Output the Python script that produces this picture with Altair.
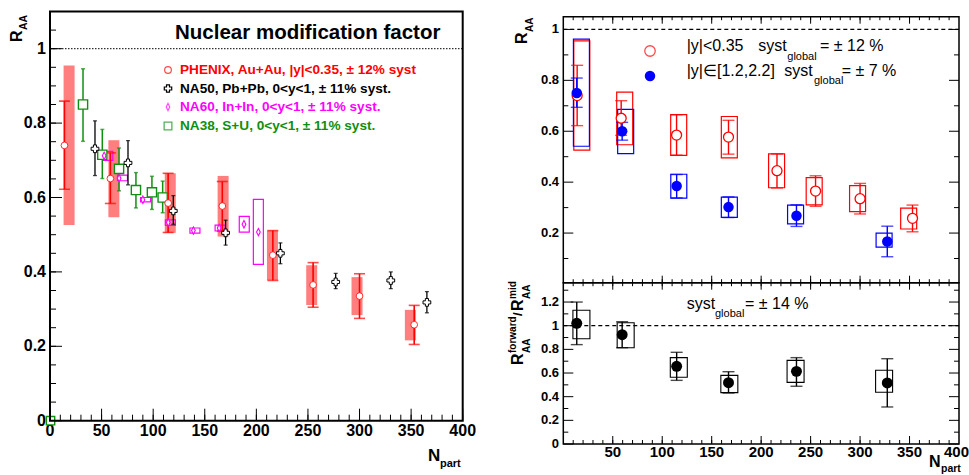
import altair as alt
import pandas as pd

# ---------------- data ----------------
# PHENIX Au+Au |y|<0.35 (mid rapidity)
phx_npart = [14, 58.5, 114.5, 167, 216, 255, 300, 353]
phx_raa = [0.740, 0.651, 0.585, 0.577, 0.445, 0.365, 0.335, 0.258]
phx_stat_hi = [0.859, 0.720, 0.665, 0.643, 0.511, 0.425, 0.395, 0.310]
phx_stat_lo = [0.622, 0.584, 0.506, 0.510, 0.377, 0.305, 0.275, 0.205]
phx_sys_hi = [0.955, 0.754, 0.665, 0.658, 0.511, 0.418, 0.386, 0.298]
phx_sys_lo = [0.526, 0.547, 0.505, 0.495, 0.378, 0.311, 0.284, 0.216]

# NA50 Pb+Pb
na50_npart = [43.6, 75.6, 119.5, 170.2, 223.3, 276.9, 330.3, 365.3]
na50_raa = [0.731, 0.693, 0.564, 0.505, 0.450, 0.373, 0.377, 0.318]
na50_hi = [0.806, 0.753, 0.605, 0.539, 0.478, 0.396, 0.400, 0.347]
na50_lo = [0.659, 0.634, 0.528, 0.472, 0.422, 0.355, 0.355, 0.290]

# NA60 In+In
na60_npart = [52.5, 67, 90, 114.6, 139, 164, 188, 202]
na60_raa = [0.712, 0.652, 0.594, 0.533, 0.511, 0.518, 0.528, 0.507]
na60_sys_hi = [0.724, 0.660, 0.600, 0.540, 0.518, 0.526, 0.549, 0.595]
na60_sys_lo = [0.700, 0.645, 0.588, 0.525, 0.504, 0.510, 0.507, 0.420]

# NA38 S+U
na38_npart = [32, 50.7, 66.9, 83.3, 98.8, 109.2]
na38_raa = [0.850, 0.715, 0.677, 0.620, 0.614, 0.600]
na38_hi = [0.946, 0.783, 0.733, 0.667, 0.657, 0.644]
na38_lo = [0.751, 0.651, 0.618, 0.572, 0.568, 0.559]
na38_stray_npart = [0.5]
na38_stray_raa = [0.0]

# PHENIX forward |y| in [1.2,2.2]
fwd_npart = [13.6, 59.5, 114.6, 167, 235.7, 327.5]
fwd_raa = [0.750, 0.600, 0.385, 0.302, 0.268, 0.167]
fwd_stat_hi = [0.809, 0.635, 0.430, 0.342, 0.311, 0.227]
fwd_stat_lo = [0.694, 0.565, 0.338, 0.261, 0.226, 0.107]
fwd_sys_hi = [0.962, 0.686, 0.431, 0.341, 0.310, 0.200]
fwd_sys_lo = [0.541, 0.512, 0.337, 0.262, 0.236, 0.145]

# forward / mid ratio
rat_npart = [13.6, 59.5, 114.6, 167, 235.7, 327.5]
rat_val = [1.020, 0.924, 0.657, 0.518, 0.614, 0.516]
rat_stat_hi = [1.200, 1.034, 0.775, 0.611, 0.730, 0.721]
rat_stat_lo = [0.840, 0.814, 0.538, 0.431, 0.488, 0.313]
rat_sys_hi = [1.130, 1.025, 0.730, 0.580, 0.707, 0.623]
rat_sys_lo = [0.890, 0.814, 0.564, 0.434, 0.521, 0.437]

# axis ticks and labels
left_x_major = [0, 50, 100, 150, 200, 250, 300, 350, 400]
left_x_labels = ["0", "50", "100", "150", "200", "250", "300", "350", "400"]
left_x_minor = list(range(0, 401, 10))
left_y_major = [0, 0.2, 0.4, 0.6, 0.8, 1.0]
left_y_labels = ["0", "0.2", "0.4", "0.6", "0.8", "1"]
left_y_minor = [i * 0.05 for i in range(0, 22)]

right_x_major = [50, 100, 150, 200, 250, 300, 350]
right_x_minor = list(range(10, 400, 10))
right_x_labels_v = [50, 100, 150, 200, 250, 300, 350]
right_x_labels = ["50", "100", "150", "200", "250", "300", "350"]
right_x_last_v = [400]
right_x_last = ["400"]
top_y_major = [0.2, 0.4, 0.6, 0.8, 1.0]
top_y_labels = ["0.2", "0.4", "0.6", "0.8", "1"]
top_y_minor = [0.1, 0.3, 0.5, 0.7, 0.9]
bot_y_major = [0, 0.2, 0.4, 0.6, 0.8, 1.0, 1.2]
bot_y_labels = ["0", "0.2", "0.4", "0.6", "0.8", "1", "1.2"]
bot_y_minor = [0.1, 0.3, 0.5, 0.7, 0.9, 1.1, 1.3]

FONT = "Liberation Sans"
RED, BLUE, MAG, GRN = "#ff0000", "#0000ff", "#ff00ff", "#0f8f0f"

# ---------------- scales (pixel layout of the panels) ----------------
def S(dom, rng):
    return alt.Scale(domain=dom, range=rng, nice=False, zero=False)

xL = S([0, 400], [50, 462.7])
yL = S([0, 1.1], [420.7, 11.5])
xR = S([0, 400], [563.3, 959])
yT = S([0.005, 1.05], [282.7, 16.7])
yB = S([0, 1.3635], [444, 282.7])

L_TOP, L_BOT, L_LEFT, L_RIGHT = 11.5, 420.7, 50, 462.7
R_TOP, R_MID, R_BOT, R_LEFT, R_RIGHT = 16.7, 282.7, 444, 563.3, 959


def X(f, sc):
    return alt.X(f, type="quantitative", scale=sc, axis=None)


def Y(f, sc):
    return alt.Y(f, type="quantitative", scale=sc, axis=None)


def frame(xs, ys, xd, yd, sw):
    df = pd.DataFrame({"a": [xd[0]], "b": [xd[1]], "c": [yd[0]], "d": [yd[1]]})
    return alt.Chart(df).mark_rect(fillOpacity=0, stroke="black", strokeWidth=sw).encode(
        x=X("a", xs), x2="b", y=Y("c", ys), y2="d")


def unity(xs, ys, xd, dash, sw=1):
    df = pd.DataFrame({"a": [xd[0]], "b": [xd[1]], "y": [1.0]})
    return alt.Chart(df).mark_rule(color="black", strokeDash=dash, strokeWidth=sw).encode(
        x=X("a", xs), x2="b", y=Y("y", ys))


def xticks(vals, xs, ypix, length, sw=1):
    df = pd.DataFrame({"v": vals})
    return alt.Chart(df).mark_rule(color="black", strokeWidth=sw).encode(
        x=X("v", xs), y=alt.value(ypix), y2=alt.value(ypix + length))


def yticks(vals, ys, xpix, length, sw=1):
    df = pd.DataFrame({"v": vals})
    return alt.Chart(df).mark_rule(color="black", strokeWidth=sw).encode(
        y=Y("v", ys), x=alt.value(xpix), x2=alt.value(xpix + length))


def xlabels(vals, labs, xs, ypix, size, align="center"):
    df = pd.DataFrame({"v": vals, "t": labs})
    return alt.Chart(df).mark_text(font=FONT, fontSize=size, fontWeight="bold", align=align,
                                   baseline="middle", color="black").encode(
        x=X("v", xs), y=alt.value(ypix), text="t:N")


def ylabels(vals, labs, ys, xpix, size):
    df = pd.DataFrame({"v": vals, "t": labs})
    return alt.Chart(df).mark_text(font=FONT, fontSize=size, fontWeight="bold", align="right",
                                   baseline="middle", color="black").encode(
        y=Y("v", ys), x=alt.value(xpix), text="t:N")


def errbars(n, lo, hi, xs, ys, color, sw, cap):
    df = pd.DataFrame({"n": n, "lo": lo, "hi": hi})
    base = alt.Chart(df)
    bar = base.mark_rule(color=color, strokeWidth=sw).encode(x=X("n", xs), y=Y("lo", ys), y2="hi")
    c1 = base.mark_tick(color=color, orient="horizontal", size=cap, thickness=sw).encode(
        x=X("n", xs), y=Y("hi", ys))
    c2 = base.mark_tick(color=color, orient="horizontal", size=cap, thickness=sw).encode(
        x=X("n", xs), y=Y("lo", ys))
    return [bar, c1, c2]


def boxes(n, lo, hi, xs, ys, width, **mk):
    df = pd.DataFrame({"n": n, "lo": lo, "hi": hi})
    return alt.Chart(df).mark_bar(size=width, **mk).encode(x=X("n", xs), y=Y("lo", ys), y2="hi")


def points(n, v, xs, ys, **mk):
    df = pd.DataFrame({"n": n, "v": v})
    return alt.Chart(df).mark_point(**mk).encode(x=X("n", xs), y=Y("v", ys))


def txt(s, x, y, size, color="black", weight="normal", align="left", angle=0, baseline="middle"):
    df = pd.DataFrame({"t": [s]})
    mk = dict(font=FONT, fontSize=size, fontWeight=weight, color=color, align=align, baseline=baseline)
    if angle:
        mk["angle"] = angle
    return alt.Chart(df).mark_text(**mk).encode(x=alt.value(x), y=alt.value(y), text="t:N")


def sym(shape, x, y, size, **mk):
    df = pd.DataFrame({"t": [0]})
    return alt.Chart(df).mark_point(shape=shape, size=size, **mk).encode(
        x=alt.value(x), y=alt.value(y))


DIAMOND = "M0,-1L0.5,0L0,1L-0.5,0Z"
layers = []

# ================= LEFT PANEL =================
layers += [
    unity(xL, yL, [0, 400], [1.5, 1.5]),
    xticks(left_x_minor, xL, L_BOT, -6),
    xticks(left_x_major, xL, L_BOT, -12),
    yticks(left_y_minor, yL, L_LEFT, 6),
    yticks(left_y_major, yL, L_LEFT, 12),
    xlabels(left_x_major, left_x_labels, xL, 431, 16),
    ylabels(left_y_major, left_y_labels, yL, 46, 16),
]
# PHENIX syst boxes (filled)
layers.append(boxes(phx_npart, phx_sys_lo, phx_sys_hi, xL, yL, 11, color="#ff4d4d", opacity=0.72))
# NA60 boxes
layers.append(boxes(na60_npart, na60_sys_lo, na60_sys_hi, xL, yL, 10, fillOpacity=0, stroke=MAG,
                    strokeWidth=1.2))
layers += errbars(na38_npart, na38_lo, na38_hi, xL, yL, GRN, 1.5, 4)
layers += errbars(na50_npart, na50_lo, na50_hi, xL, yL, "black", 1.3, 4)
layers += errbars(phx_npart, phx_stat_lo, phx_stat_hi, xL, yL, RED, 1.6, 11)
layers.append(points(na38_npart, na38_raa, xL, yL, shape="square", size=85, filled=True, fill="white",
                     stroke=GRN, strokeWidth=1.4, opacity=1))
layers.append(points(na38_stray_npart, na38_stray_raa, xL, yL, shape="square", size=70, filled=True,
                     fill="white", stroke=GRN, strokeWidth=1.4, opacity=1))
layers.append(points(na60_npart, na60_raa, xL, yL, shape=DIAMOND, size=55, filled=True, fill="white",
                     stroke=MAG, strokeWidth=1.1, opacity=1))
layers.append(points(na50_npart, na50_raa, xL, yL, shape="cross", size=60, filled=True, fill="white",
                     stroke="black", strokeWidth=1.0, opacity=1))
layers.append(points(phx_npart, phx_raa, xL, yL, shape="circle", size=45, filled=True, fill="white",
                     stroke=RED, strokeWidth=0.8, opacity=1))
layers.append(frame(xL, yL, [0, 400], [0, 1.1], 2))

# left texts
layers += [
    txt("Nuclear modification factor", 175, 33, 20.5, weight="bold"),
    sym("circle", 168, 70, 45, filled=False, color=RED, strokeWidth=1.2),
    txt("PHENIX, Au+Au, |y|<0.35, \u00b1 12% syst", 180, 70, 13.6, RED, "bold"),
    sym("cross", 168, 88.5, 55, filled=True, fill="white", stroke="black", strokeWidth=1.2, opacity=1),
    txt("NA50, Pb+Pb, 0<y<1, \u00b1 11% syst.", 180, 88.5, 13.6, "black", "bold"),
    sym(DIAMOND, 168, 107, 50, filled=False, color=MAG, strokeWidth=1.2),
    txt("NA60, In+In, 0<y<1, \u00b1 11% syst.", 180, 107, 13.6, MAG, "bold"),
    sym("square", 168, 126, 60, filled=False, color=GRN, strokeWidth=1.3),
    txt("NA38, S+U, 0<y<1, \u00b1 11% syst.", 180, 126, 13.6, GRN, "bold"),
    # axis titles
    txt("R", 17, 42, 16, weight="bold", angle=270),
    txt("AA", 24, 30, 10.5, weight="bold", angle=270),
    txt("N", 428, 456, 17, weight="bold"),
    txt("part", 440, 464, 11, weight="bold"),
]

# ================= RIGHT TOP PANEL =================
layers += [
    unity(xR, yT, [0, 400], [4, 3], 1.2),
    xticks(right_x_minor, xR, R_MID, -3.5),
    xticks(right_x_major, xR, R_MID, -7),
    xticks(right_x_minor, xR, R_TOP, 3.5),
    xticks(right_x_major, xR, R_TOP, 7),
    yticks(top_y_minor, yT, R_LEFT, 5),
    yticks(top_y_major, yT, R_LEFT, 10),
    yticks(top_y_minor, yT, R_RIGHT, -5),
    yticks(top_y_major, yT, R_RIGHT, -10),
    ylabels(top_y_major, top_y_labels, yT, 559, 13),
]
layers.append(boxes(phx_npart, phx_sys_lo, phx_sys_hi, xR, yT, 16, fillOpacity=0, stroke=RED,
                    strokeWidth=1.2))
layers.append(boxes(fwd_npart, fwd_sys_lo, fwd_sys_hi, xR, yT, 16, fillOpacity=0, stroke=BLUE,
                    strokeWidth=1.2))
layers += errbars(phx_npart, phx_stat_lo, phx_stat_hi, xR, yT, RED, 1.4, 12)
layers += errbars(fwd_npart, fwd_stat_lo, fwd_stat_hi, xR, yT, BLUE, 1.4, 12)
layers.append(points(phx_npart, phx_raa, xR, yT, shape="circle", size=100, filled=True, fill="white",
                     stroke=RED, strokeWidth=1.3, opacity=1))
layers.append(points(fwd_npart, fwd_raa, xR, yT, shape="circle", size=110, filled=True, color=BLUE,
                     opacity=1))
layers.append(frame(xR, yT, [0, 400], [0.005, 1.05], 1.5))
layers += [
    sym("circle", 650, 51, 110, filled=False, color=RED, strokeWidth=1.3),
    txt("|y|<0.35", 686.7, 46, 16),
    txt("syst", 758.3, 46, 16),
    txt("global", 787.3, 57, 11),
    txt("= \u00b1 12 %", 820, 46, 16),
    sym("circle", 650, 76, 110, filled=True, color=BLUE, opacity=1),
    txt("|y|\u2208[1.2,2.2]", 686.7, 71, 16),
    txt("syst", 784.3, 71, 16),
    txt("global", 814, 81, 11),
    txt("= \u00b1 7 %", 841.7, 71, 16),
    txt("R", 522, 44, 16, weight="bold", angle=270),
    txt("AA", 529.5, 32, 10, weight="bold", angle=270),
]

# ================= RIGHT BOTTOM PANEL =================
layers += [
    unity(xR, yB, [0, 400], [4, 3], 1.2),
    xticks(right_x_minor, xR, R_BOT, -4),
    xticks(right_x_major, xR, R_BOT, -8),
    xticks(right_x_minor, xR, R_MID, 3.5),
    xticks(right_x_major, xR, R_MID, 7),
    yticks(bot_y_minor, yB, R_LEFT, 5),
    yticks(bot_y_major, yB, R_LEFT, 10),
    yticks(bot_y_minor, yB, R_RIGHT, -5),
    yticks(bot_y_major, yB, R_RIGHT, -10),
    ylabels(bot_y_major, bot_y_labels, yB, 559, 13),
    xlabels(right_x_labels_v, right_x_labels, xR, 452, 15),
    xlabels(right_x_last_v, right_x_last, xR, 452, 15, align="right").encode(x=alt.X(
        "v", type="quantitative", scale=xR, axis=None), xOffset=alt.value(10)),
]
layers.append(boxes(rat_npart, rat_sys_lo, rat_sys_hi, xR, yB, 17, fillOpacity=0, stroke="black",
                    strokeWidth=1.1))
layers += errbars(rat_npart, rat_stat_lo, rat_stat_hi, xR, yB, "black", 1.4, 12)
layers.append(points(rat_npart, rat_val, xR, yB, shape="circle", size=120, filled=True, color="black",
                     opacity=1))
layers.append(frame(xR, yB, [0, 400], [0, 1.3635], 1.5))
layers += [
    txt("syst", 686.7, 304, 16),
    txt("global", 715, 314, 11),
    txt("= \u00b1 14 %", 745, 304, 16),
    # y title  R_AA^forward / R_AA^mid
    txt("R", 518, 365, 16, weight="bold", angle=270),
    txt("AA", 526.5, 353, 10, weight="bold", angle=270),
    txt("forward", 512.5, 353, 10, weight="bold", angle=270),
    txt("/", 518, 316, 13, weight="bold", angle=270),
    txt("R", 518, 311, 16, weight="bold", angle=270),
    txt("AA", 526.5, 299, 10, weight="bold", angle=270),
    txt("mid", 512.5, 299, 10, weight="bold", angle=270),
    txt("N", 929, 462, 16, weight="bold"),
    txt("part", 941, 469, 10.5, weight="bold"),
]

chart = alt.layer(*layers).resolve_scale(x="independent", y="independent").properties(
    width=969, height=475,
    autosize=alt.AutoSizeParams(type="none"),
    padding=0,
    background="white",
).configure_view(stroke=None)

chart.save("out.html", embed_options={"renderer": "svg", "actions": False})
